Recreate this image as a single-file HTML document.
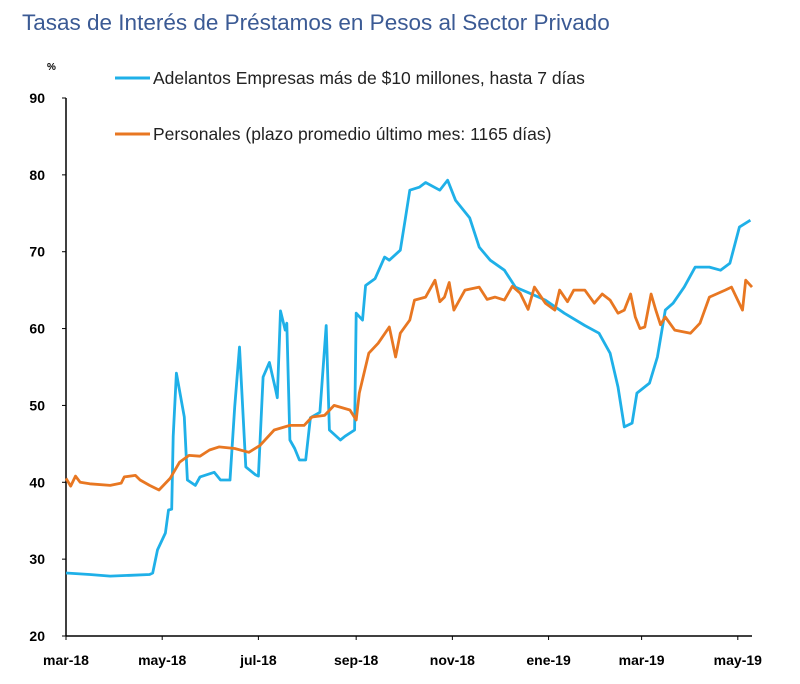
<!DOCTYPE html>
<html><head><meta charset="utf-8"><style>
body{margin:0;background:#fff;width:800px;height:679px;overflow:hidden;font-family:"Liberation Sans",sans-serif}
</style></head><body>
<svg id="chart" width="800" height="679" xmlns="http://www.w3.org/2000/svg" font-family="Liberation Sans, sans-serif">
<text x="22" y="30" font-size="22.5" fill="#3b5a94">Tasas de Interés de Préstamos en Pesos al Sector Privado</text>
<text x="47" y="70" font-size="10" font-weight="bold">%</text>
<line x1="115" y1="78" x2="150" y2="78" stroke="#1fb0e8" stroke-width="3"/>
<text x="153" y="84" font-size="17.5" fill="#222">Adelantos Empresas más de $10 millones, hasta 7 días</text>
<line x1="115" y1="134" x2="150" y2="134" stroke="#e87722" stroke-width="3"/>
<text x="153" y="140" font-size="17.5" fill="#222">Personales (plazo promedio último mes: 1165 días)</text>
<g id="axes"></g>
<g id="series"></g>
</svg>
<script>
const yTicks=[20,30,40,50,60,70,80,90];
const xTickLabels=["mar-18","may-18","jul-18","sep-18","nov-18","ene-19","mar-19","may-19"];
const xTickDays=[0,61,122,184,245,306,365,426];
const blueDays=[0,15,28,41,53,55,58,63,65,67,68,70,75,77,82,85,94,98,104,107,110,114,120,122,125,129,133,134,136,139,140,142,145,148,152,155,161,165,167,174,177,183,184,188,190,196,202,205,212,215,218,224,228,237,242,247,256,262,269,278,285,294,304,316,329,338,345,350,354,359,362,370,375,380,385,392,399,408,415,421,427,434];
const blueValues=[28.2,28.0,27.8,27.9,28.0,28.2,31.2,33.4,36.4,36.5,46,54.2,48.5,40.3,39.6,40.7,41.3,40.3,40.3,49.8,57.6,42,41,40.8,53.7,55.6,52,51,62.3,59.8,60.7,45.5,44.4,42.9,42.9,48.4,49.1,60.4,46.8,45.5,46,46.8,62,61.1,65.6,66.5,69.3,68.9,70.2,74.1,78,78.4,79,78,79.3,76.7,74.4,70.6,68.9,67.6,65.4,64.6,63.7,62,60.4,59.4,56.8,52.4,47.2,47.7,51.6,52.9,56.3,62.4,63.3,65.4,68,68,67.6,68.5,73.2,74.1];
const orangeDays=[0,3,6,9,15,28,35,37,44,47,53,59,66,72,78,85,91,97,107,116,123,132,142,151,156,164,170,180,184,186,192,198,205,209,212,218,221,228,234,237,240,243,246,253,262,267,272,278,283,288,293,297,304,310,313,318,322,329,335,340,345,350,354,358,361,364,367,371,374,377,380,386,396,402,408,418,422,429,431,435];
const orangeValues=[40.5,39.5,40.8,40,39.8,39.6,39.9,40.7,40.9,40.3,39.6,39,40.5,42.6,43.5,43.4,44.2,44.6,44.4,43.9,44.8,46.8,47.4,47.4,48.5,48.7,50,49.4,48.1,51.6,56.8,58.1,60.2,56.3,59.4,61.1,63.7,64.1,66.3,63.5,64.1,66,62.4,65,65.4,63.8,64.1,63.7,65.5,64.6,62.5,65.4,63.3,62.4,65,63.5,65,65,63.3,64.5,63.7,62,62.4,64.5,61.5,60,60.2,64.5,62.4,60.5,61.5,59.8,59.4,60.7,64.1,65,65.4,62.4,66.3,65.4];
const X0=66,X1=752,D1=435,Y0=636,Y1=98;
const xs=d=>X0+(X1-X0)*d/D1;
const ys=v=>Y0-(v-20)*(Y0-Y1)/70;
const NS="http://www.w3.org/2000/svg";
const axes=document.getElementById('axes'),series=document.getElementById('series');
function mk(tag,attrs,parent){const e=document.createElementNS(NS,tag);for(const k in attrs)e.setAttribute(k,attrs[k]);parent.appendChild(e);return e;}
let yl=mk('line',{x1:X0,y1:Y1,x2:X0,y2:Y0,stroke:'#000','stroke-width':1.5},axes);


let xl=mk('line',{x1:X0,y1:Y0,x2:X1,y2:Y0,stroke:'#000','stroke-width':1.5},axes);


yTicks.forEach(v=>{
 const t=mk('line',{x1:X0-4,y1:ys(v),x2:X0,y2:ys(v),stroke:'#000'},axes);
 
 
 const l=mk('text',{x:45,y:ys(v)+5,'font-size':14,'font-weight':'bold','text-anchor':'end'},axes);
 l.textContent=v;
 
 
});
xTickLabels.forEach((s,i)=>{
 const t=mk('line',{x1:xs(xTickDays[i]),y1:Y0,x2:xs(xTickDays[i]),y2:Y0+4,stroke:'#000'},axes);
 
 
 const l=mk('text',{x:xs(xTickDays[i]),y:665,'font-size':14,'font-weight':'bold','text-anchor':'middle'},axes);
 l.textContent=s;
 
 
});
function line(days,vals){return days.map((d,i)=>(i?'L':'M')+xs(d).toFixed(1)+','+ys(vals[i]).toFixed(1)).join('');}
const bl=mk('path',{d:line(blueDays,blueValues),fill:'none',stroke:'#1fb0e8','stroke-width':2.8,'stroke-linejoin':'round'},series);


const ol=mk('path',{d:line(orangeDays,orangeValues),fill:'none',stroke:'#e87722','stroke-width':2.8,'stroke-linejoin':'round'},series);


</script>
</body></html>
